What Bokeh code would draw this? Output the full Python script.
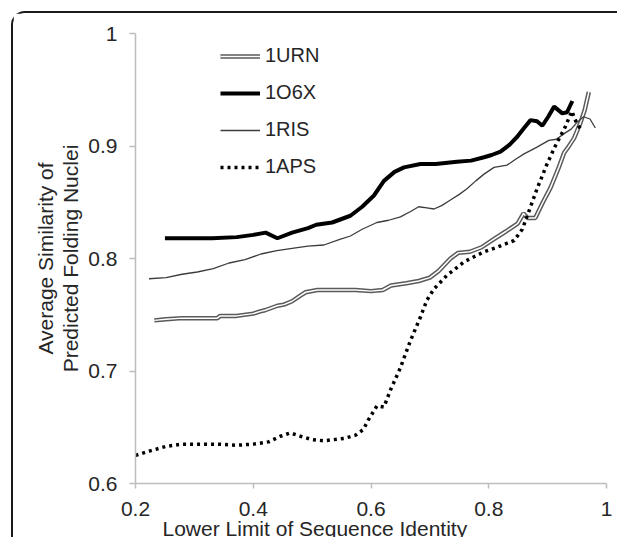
from bokeh.plotting import figure
from bokeh.models import FixedTicker, Legend, LegendItem, Range1d, Title
from bokeh.embed import file_html
from bokeh.resources import INLINE

# ---------------- data ----------------
urn_x = [0.232, 0.252, 0.279, 0.339, 0.344, 0.372, 0.400, 0.412, 0.420, 0.441, 0.452, 0.466, 0.480, 0.489,
         0.509, 0.520, 0.574, 0.600, 0.620, 0.634, 0.660, 0.681, 0.700, 0.715, 0.735, 0.748, 0.768, 0.788,
         0.808, 0.829, 0.849, 0.859, 0.866, 0.879, 0.892, 0.905, 0.919, 0.928, 0.935, 0.945, 0.956, 0.963, 0.970]
urn_y = [0.745, 0.746, 0.747, 0.747, 0.749, 0.749, 0.751, 0.753, 0.754, 0.758, 0.759, 0.762, 0.767, 0.770,
         0.772, 0.772, 0.772, 0.771, 0.772, 0.776, 0.778, 0.780, 0.783, 0.789, 0.800, 0.805, 0.806, 0.810,
         0.817, 0.824, 0.831, 0.840, 0.836, 0.836, 0.850, 0.863, 0.881, 0.894, 0.899, 0.907, 0.921, 0.932, 0.948]

o6x_x = [0.250, 0.280, 0.330, 0.372, 0.400, 0.421, 0.441, 0.466, 0.493, 0.507, 0.534, 0.565, 0.585, 0.605,
         0.622, 0.640, 0.656, 0.684, 0.710, 0.746, 0.770, 0.792, 0.805, 0.820, 0.835, 0.848, 0.860, 0.871,
         0.882, 0.891, 0.901, 0.911, 0.925, 0.933, 0.942]
o6x_y = [0.818, 0.818, 0.818, 0.819, 0.821, 0.823, 0.818, 0.823, 0.827, 0.830, 0.832, 0.838, 0.846, 0.856,
         0.869, 0.877, 0.881, 0.884, 0.884, 0.886, 0.887, 0.890, 0.892, 0.895, 0.901, 0.908, 0.916, 0.923,
         0.922, 0.918, 0.926, 0.935, 0.929, 0.930, 0.940]

ris_x = [0.223, 0.252, 0.279, 0.305, 0.332, 0.359, 0.386, 0.413, 0.440, 0.466, 0.493, 0.520, 0.547, 0.565,
         0.585, 0.610, 0.630, 0.650, 0.668, 0.681, 0.695, 0.707, 0.720, 0.735, 0.750, 0.763, 0.778, 0.792,
         0.809, 0.831, 0.845, 0.860, 0.882, 0.902, 0.915, 0.928, 0.940, 0.950, 0.961, 0.972, 0.981]
ris_y = [0.782, 0.783, 0.786, 0.788, 0.791, 0.796, 0.799, 0.804, 0.807, 0.809, 0.811, 0.812, 0.817, 0.820,
         0.826, 0.832, 0.834, 0.837, 0.842, 0.846, 0.845, 0.844, 0.847, 0.852, 0.857, 0.862, 0.869, 0.875,
         0.881, 0.883, 0.888, 0.893, 0.899, 0.905, 0.906, 0.911, 0.915, 0.921, 0.926, 0.924, 0.916]

aps_x = [0.200, 0.225, 0.252, 0.279, 0.339, 0.372, 0.400, 0.426, 0.446, 0.463, 0.480, 0.500, 0.520, 0.554,
         0.574, 0.587, 0.596, 0.610, 0.622, 0.633, 0.650, 0.667, 0.684, 0.695, 0.707, 0.729, 0.758, 0.792,
         0.814, 0.843, 0.857, 0.871, 0.882, 0.899, 0.913, 0.930, 0.941, 0.948, 0.956]
aps_y = [0.625, 0.629, 0.633, 0.635, 0.635, 0.634, 0.635, 0.637, 0.642, 0.645, 0.642, 0.639, 0.638, 0.640,
         0.643, 0.648, 0.657, 0.669, 0.668, 0.683, 0.703, 0.727, 0.748, 0.763, 0.773, 0.785, 0.797, 0.806,
         0.810, 0.816, 0.826, 0.846, 0.862, 0.884, 0.900, 0.917, 0.931, 0.922, 0.915]

series_names = ["1URN", "1O6X", "1RIS", "1APS"]
x_ticks = [0.2, 0.4, 0.6, 0.8, 1.0]
x_tick_labels = ["0.2", "0.4", "0.6", "0.8", "1"]
y_ticks = [0.6, 0.7, 0.8, 0.9, 1.0]
y_tick_labels = ["0.6", "0.7", "0.8", "0.9", "1"]
x_title = "Lower Limit of Sequence Identity"
y_title = "Average Similarity of\nPredicted Folding Nuclei"

FONT = "Liberation Sans"
TXT = "#262626"
AX = "#bdbdbd"

p = figure(width=606, height=526, output_backend="svg", toolbar_location=None,
           x_range=Range1d(0.2, 1.0), y_range=Range1d(0.6, 1.0),
           min_border_left=122, min_border_right=13, min_border_top=20, min_border_bottom=56)
p.styles = {"margin-left": "11px", "margin-top": "11px",
            "border-left": "2px solid #1a1a1a", "border-top": "2px solid #1a1a1a",
            "border-top-left-radius": "14px"}
p.outline_line_color = None
p.grid.visible = False
p.background_fill_color = "white"
p.border_fill_color = "white"

for ax in (p.xaxis[0], p.yaxis[0]):
    ax.axis_line_color = AX
    ax.axis_line_width = 1.5
    ax.major_tick_line_color = AX
    ax.major_tick_line_width = 1.5
    ax.major_tick_in = 0
    ax.minor_tick_line_color = None
    ax.major_label_text_font = FONT
    ax.major_label_text_font_size = "21px"
    ax.major_label_text_color = TXT
    ax.axis_label_text_font = FONT
    ax.axis_label_text_font_size = "21px"
    ax.axis_label_text_font_style = "normal"
    ax.axis_label_text_color = TXT

p.xaxis.ticker = FixedTicker(ticks=x_ticks)
p.yaxis.ticker = FixedTicker(ticks=y_ticks)
p.xaxis.major_label_overrides = dict(zip(x_ticks, x_tick_labels))
p.yaxis.major_label_overrides = dict(zip(y_ticks, y_tick_labels))
p.xaxis.major_tick_out = 5
p.yaxis.major_tick_out = 6
p.yaxis.major_label_standoff = 12

p.yaxis.axis_label = y_title
p.yaxis.axis_label_text_line_height = 1.1
p.yaxis.axis_label_standoff = 3

xt = Title(text=x_title, align="left", offset=27, standoff=0,
           text_font=FONT, text_font_size="21px", text_font_style="normal", text_color=TXT)
try:
    xt.standoff = -8
    p.xaxis.major_label_standoff = 13
except Exception:
    xt.standoff = 0
    p.xaxis.major_label_standoff = 10
p.add_layout(xt, "below")

r_urn_o = p.line(urn_x, urn_y, line_color="#5a5a5a", line_width=4.5)
r_urn_i = p.line(urn_x, urn_y, line_color="white", line_width=1.5)
r_o6x = p.line(o6x_x, o6x_y, line_color="black", line_width=4)
r_ris = p.line(ris_x, ris_y, line_color="#3c3c3c", line_width=1.3)
r_aps = p.line(aps_x, aps_y, line_color="black", line_width=3.5, line_dash="3 4")

legend = Legend(items=[LegendItem(label=series_names[0], renderers=[r_urn_o, r_urn_i]),
                       LegendItem(label=series_names[1], renderers=[r_o6x]),
                       LegendItem(label=series_names[2], renderers=[r_ris]),
                       LegendItem(label=series_names[3], renderers=[r_aps])],
                location=(85, 305), orientation="vertical",
                glyph_width=40, glyph_height=20, label_height=20, label_standoff=5,
                spacing=14, padding=0, margin=0,
                label_text_font=FONT, label_text_font_size="20px", label_text_color=TXT,
                background_fill_alpha=0, border_line_color=None)
p.add_layout(legend)

open("out.html", "w").write(file_html(p, INLINE))
